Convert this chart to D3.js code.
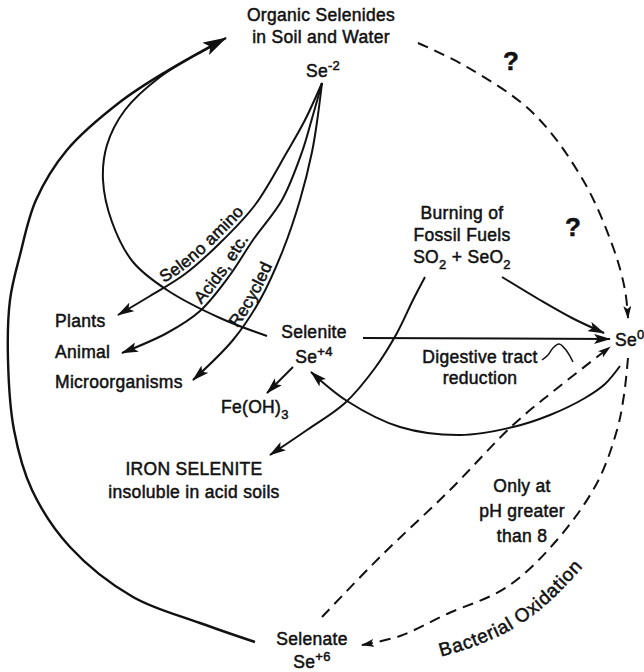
<!DOCTYPE html>
<html>
<head>
<meta charset="utf-8">
<script src="https://cdn.jsdelivr.net/npm/d3@7"></script>
<style>
  body { margin: 0; background: #fff; }
  text { font-family: "Liberation Sans", Arial, sans-serif; fill: #111; stroke: #111; stroke-width: 0.5px; letter-spacing: 0.3px; }
</style>
</head>
<body>
<svg id="chart"></svg>
<script>
// diagram coordinates (644 x 672 units)
// '^' marks a superscript piece, '_' a subscript piece
const labelLines = [
  [['Organic Selenides'], ['in Soil and Water']],
  [['Se', '^-2']],
  [['Burning of'], ['Fossil Fuels'], ['SO', '_2', ' + SeO', '_2']],
  [['Plants']],
  [['Animal']],
  [['Microorganisms']],
  [['Selenite'], ['Se', '^+4']],
  [['Digestive tract'], ['reduction']],
  [['Se', '^0']],
  [['Fe(OH)', '_3']],
  [['IRON SELENITE'], ['insoluble in acid soils']],
  [['Only at'], ['pH greater'], ['than 8']],
  [['Selenate'], ['Se', '^+6']]
];
const labelX = [321, 323, 462, 55, 55, 55, 314, 480, 615, 221, 194, 522, 312];
const labelY = [21, 77, 219, 327, 358, 388, 338, 363, 346, 413, 475, 492, 645];
const labelAnchor = ['middle', 'middle', 'middle', 'start', 'start', 'start', 'middle', 'middle', 'start', 'start', 'middle', 'middle', 'middle'];
const lineGaps = [22, 0, 22, 0, 0, 0, 25, 21, 0, 0, 23, 25, 23];

const questionMarks = ['?', '?'];
const questionX = [511, 573];
const questionY = [70, 236];

// labels written along the three Se-2 branches (flow index, x where text starts)
const branchText = ['Seleno amino', 'Acids, etc.', 'Recycled'];
const branchFlow = [2, 3, 4];
const branchStartX = [164, 201, 237];

const oxidationText = 'Bacterial Oxidation';
const oxidationBaseline = [[440, 657], [478, 645], [514, 628], [548, 603], [584, 566]];

// flows: control points, dashed?, arrow type
const flows = [
  { name: 'return to organic', pts: [[255, 642], [200, 623], [133, 597], [70, 547], [32, 490], [14, 430], [8, 360], [10, 300], [20, 255], [36, 200], [67, 150], [120, 102], [167, 71], [226, 38]], dash: false, arrow: 'big' },
  { name: 'selenite loop', pts: [[267, 336], [220, 318], [167, 290], [133, 262], [112, 222], [103, 180], [107, 145], [125, 110], [160, 77], [196, 55], [214, 45]], dash: false, arrow: null },
  { name: 'to plants', pts: [[322, 83], [305, 120], [287, 152], [255, 205], [220, 243], [185, 274], [150, 296], [118, 315]], dash: false, arrow: 'mid' },
  { name: 'to animal', pts: [[322, 83], [311, 122], [302, 152], [282, 200], [253, 240], [230, 275], [200, 311], [167, 333], [122, 353]], dash: false, arrow: 'mid' },
  { name: 'to microorganisms', pts: [[322, 83], [317, 122], [312, 152], [300, 200], [283, 250], [260, 300], [233, 340], [193, 380]], dash: false, arrow: 'mid' },
  { name: 'selenite to se0', pts: [[363, 338], [610, 339]], dash: false, arrow: 'mid' },
  { name: 'seo2 to se0', pts: [[502, 277], [540, 300], [572, 318], [604, 333]], dash: false, arrow: 'mid' },
  { name: 'burning to iron', pts: [[425, 277], [413, 300], [397, 333], [375, 368], [345, 403], [307, 430], [270, 455]], dash: false, arrow: 'mid' },
  { name: 'se0 to selenite', pts: [[620, 366], [605, 384], [585, 398], [550, 415], [513, 427], [460, 435], [400, 427], [347, 401], [311, 372]], dash: false, arrow: 'mid' },
  { name: 'selenite to feoh', pts: [[293, 367], [267, 393]], dash: false, arrow: 'mid' },
  { name: 'organic to se0', pts: [[418, 43], [467, 67], [533, 113], [583, 180], [613, 247], [625, 290], [628, 318]], dash: true, arrow: 'small' },
  { name: 'selenate to se0', pts: [[322, 617], [380, 557], [450, 490], [513, 425], [560, 386], [610, 347]], dash: true, arrow: 'small' },
  { name: 'bacterial oxidation', pts: [[628, 358], [624, 395], [617, 430], [597, 483], [557, 540], [507, 587], [447, 614], [400, 636], [362, 645]], dash: true, arrow: 'small' }
];
const squiggle = [[542, 360], [548, 355], [553, 348], [559, 344], [566, 350], [573, 362]];

const width = 644;
const height = 672;
const svg = d3.select('#chart').attr('width', width).attr('height', height);
svg.append('rect').attr('width', width).attr('height', height).attr('fill', '#fff');

const x = d3.scaleLinear().domain([0, 644]).range([0, width]);
const y = d3.scaleLinear().domain([0, 672]).range([0, height]);

const defs = svg.append('defs');
const arrowSizes = { big: [24, 7], mid: [17, 5], small: [13, 4] };
Object.entries(arrowSizes).forEach(([key, [len, half]]) => {
  defs.append('marker')
    .attr('id', `arrow-${key}`)
    .attr('markerUnits', 'userSpaceOnUse')
    .attr('viewBox', `0 ${-half} ${len} ${half * 2}`)
    .attr('markerWidth', len)
    .attr('markerHeight', half * 2)
    .attr('refX', len - 1)
    .attr('refY', 0)
    .attr('orient', 'auto')
    .append('path')
    .attr('d', `M0,${-half}L${len},0L0,${half}L${len * 0.22},0Z`)
    .attr('fill', '#111');
});

const line = d3.line().x(d => x(d[0])).y(d => y(d[1])).curve(d3.curveCatmullRom.alpha(0.5));

svg.append('g')
  .selectAll('path')
  .data(flows)
  .join('path')
  .attr('d', d => line(d.pts))
  .attr('fill', 'none')
  .attr('stroke', '#111')
  .attr('stroke-width', d => (d.arrow === 'big' ? 2.4 : 2))
  .attr('stroke-dasharray', d => (d.dash ? '11,7' : null))
  .attr('marker-end', d => (d.arrow ? `url(#arrow-${d.arrow})` : null));

svg.append('path')
  .attr('d', line(squiggle))
  .attr('fill', 'none')
  .attr('stroke', '#111')
  .attr('stroke-width', 1.5);

// text with super / subscripts
function writeLine(sel, pieces) {
  let offset = 0;
  pieces.forEach(p => {
    const kind = p[0];
    let want = 0;
    let txt = p;
    if (kind === '^') { want = -7; txt = p.slice(1); }
    if (kind === '_') { want = 6; txt = p.slice(1); }
    const ts = sel.append('tspan').attr('dy', want - offset).text(txt);
    if (want !== 0) ts.style('font-size', '13px');
    offset = want;
  });
}

const labels = svg.append('g').style('font-size', '17.5px');
labelLines.forEach((lines, i) => {
  lines.forEach((pieces, j) => {
    const t = labels.append('text')
      .attr('x', x(labelX[i]))
      .attr('y', y(labelY[i] + j * lineGaps[i]))
      .attr('text-anchor', labelAnchor[i]);
    writeLine(t, pieces);
  });
});

svg.append('g')
  .selectAll('text')
  .data(questionMarks)
  .join('text')
  .attr('x', (d, i) => x(questionX[i]))
  .attr('y', (d, i) => y(questionY[i]))
  .attr('text-anchor', 'middle')
  .style('font-size', '26px')
  .style('font-weight', 'bold')
  .text(d => d);

// branch labels follow their curve, lifted a little to its upper-left side
branchText.forEach((txt, i) => {
  const pts = flows[branchFlow[i]].pts.slice().reverse();
  const lifted = pts.map((p, k) => {
    const a = pts[Math.max(k - 1, 0)];
    const b = pts[Math.min(k + 1, pts.length - 1)];
    const dx = b[0] - a[0];
    const dy = b[1] - a[1];
    const len = Math.hypot(dx, dy);
    return [p[0] + (dy / len) * 4, p[1] - (dx / len) * 4];
  });
  const guide = defs.append('path')
    .attr('id', `branch-${i}`)
    .attr('d', line(lifted));
  const node = guide.node();
  const total = node.getTotalLength();
  let start = 0;
  for (let s = 0; s < total; s += 1) {
    if (node.getPointAtLength(s).x >= x(branchStartX[i])) { start = s; break; }
  }
  svg.append('text')
    .style('font-size', '17px')
    .append('textPath')
    .attr('href', `#branch-${i}`)
    .attr('startOffset', start)
    .text(txt);
});

defs.append('path')
  .attr('id', 'oxidation-path')
  .attr('d', line(oxidationBaseline));

svg.append('text')
  .style('font-size', '19px')
  .style('letter-spacing', '0.6px')
  .append('textPath')
  .attr('href', '#oxidation-path')
  .attr('startOffset', '50%')
  .attr('text-anchor', 'middle')
  .text(oxidationText);
</script>
</body>
</html>
